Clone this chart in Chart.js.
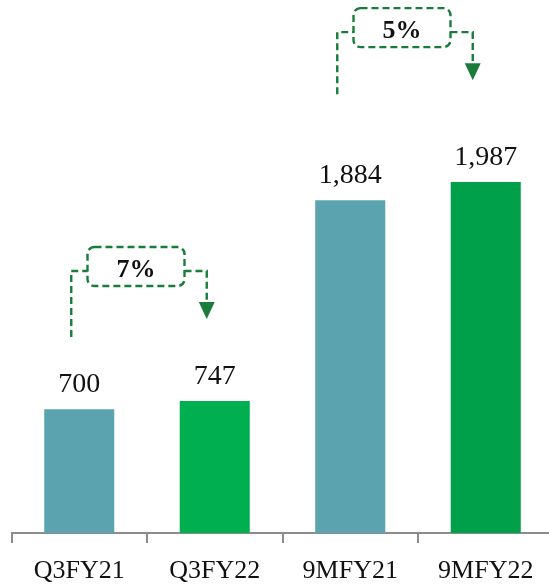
<!DOCTYPE html>
<html>
<head>
<meta charset="utf-8">
<script src="https://cdn.jsdelivr.net/npm/chart.js@4.4.1/dist/chart.umd.min.js"></script>
<style>
  html, body { margin: 0; padding: 0; background: #fff; overflow: hidden; }
  #wrap { width: 549px; height: 584px; overflow: hidden; }
  canvas { display: block; }
</style>
</head>
<body>
<div id="wrap"><canvas id="chart" width="556" height="584"></canvas></div>
<script>
// ── Data ──
const categories = ['Q3FY21', 'Q3FY22', '9MFY21', '9MFY22'];
const values     = [700, 747, 1884, 1987];
const barColors  = ['#5BA3AF', '#00B050', '#5BA3AF', '#00A04B'];
const growthText = ['7%', '5%'];
const growthFrom = [0, 2];
const growthTo   = [1, 3];

const SERIF = '"Liberation Serif", "DejaVu Serif", serif';
const DASH_GREEN = '#1A7C3A';

// ── Value labels above bars ──
const valueLabels = {
  id: 'valueLabels',
  afterDatasetsDraw(chart) {
    const ctx  = chart.ctx;
    const meta = chart.getDatasetMeta(0);
    ctx.save();
    ctx.font = '28px ' + SERIF;
    ctx.fillStyle = '#111';
    ctx.textAlign = 'center';
    ctx.textBaseline = 'alphabetic';
    meta.data.forEach((bar, i) => {
      ctx.fillText(values[i].toLocaleString('en-US'), bar.x, bar.y - 17);
    });
    ctx.restore();
  }
};

// ── Growth brackets (dashed box + arrow) ──
const growthBrackets = {
  id: 'growthBrackets',
  afterDatasetsDraw(chart, args, opts) {
    const ctx  = chart.ctx;
    const meta = chart.getDatasetMeta(0);
    const ys   = chart.scales.y;
    ctx.save();
    opts.items.forEach((it, k) => {
      const a = meta.data[growthFrom[k]];
      const b = meta.data[growthTo[k]];
      const lx = a.x + it.shift;
      const rx = b.x + it.shift;
      const ly = ys.getPixelForValue(it.level);
      const bw = 97, bh = 39;
      const bx = (lx + rx) / 2 - 3 - bw / 2;
      const by = ly - 24;

      ctx.strokeStyle = DASH_GREEN;
      ctx.lineWidth = 2.4;
      ctx.setLineDash([7, 4]);

      // left leg
      ctx.beginPath();
      ctx.moveTo(lx, ly + it.leg);
      ctx.lineTo(lx, ly);
      ctx.lineTo(bx, ly);
      ctx.stroke();

      // box
      ctx.beginPath();
      ctx.roundRect(bx, by, bw, bh, 7);
      ctx.stroke();

      // right leg
      ctx.beginPath();
      ctx.moveTo(bx + bw, ly);
      ctx.lineTo(rx, ly);
      ctx.lineTo(rx, ly + 31);
      ctx.stroke();

      // arrow head
      ctx.setLineDash([]);
      ctx.fillStyle = DASH_GREEN;
      ctx.beginPath();
      ctx.moveTo(rx - 8, ly + 31);
      ctx.lineTo(rx + 8, ly + 31);
      ctx.lineTo(rx, ly + 48);
      ctx.closePath();
      ctx.fill();

      // text
      ctx.fillStyle = '#111';
      ctx.font = 'bold 26px ' + SERIF;
      ctx.textAlign = 'center';
      ctx.textBaseline = 'middle';
      ctx.fillText(growthText[k], bx + bw / 2, ly - 1);
    });
    ctx.restore();
  }
};

new Chart(document.getElementById('chart'), {
  type: 'bar',
  data: {
    labels: categories,
    datasets: [{
      data: values,
      backgroundColor: barColors,
      borderWidth: 0,
      categoryPercentage: 1,
      barPercentage: 0.517,
    }],
  },
  options: {
    responsive: false,
    animation: false,
    devicePixelRatio: 1,
    layout: { padding: { top: 3, left: 11.5, right: 2.5, bottom: 0 } },
    plugins: {
      legend: { display: false },
      tooltip: { enabled: false },
      growthBrackets: {
        items: [
          { level: 1483, shift: -8,  leg: 66 },
          { level: 2835, shift: -13, leg: 62 },
        ],
      },
    },
    scales: {
      y: { display: false, min: 0, max: 3000 },
      x: {
        afterFit: s => { s.height = 51; },
        border: { color: '#8C8C8C', width: 2 },
        grid: {
          drawOnChartArea: false, offset: true,
          color: '#8C8C8C', lineWidth: 2, tickLength: 10,
        },
        ticks: { color: '#111', padding: 13, font: { family: SERIF, size: 26 } },
      },
    },
  },
  plugins: [valueLabels, growthBrackets],
});
</script>
</body>
</html>
